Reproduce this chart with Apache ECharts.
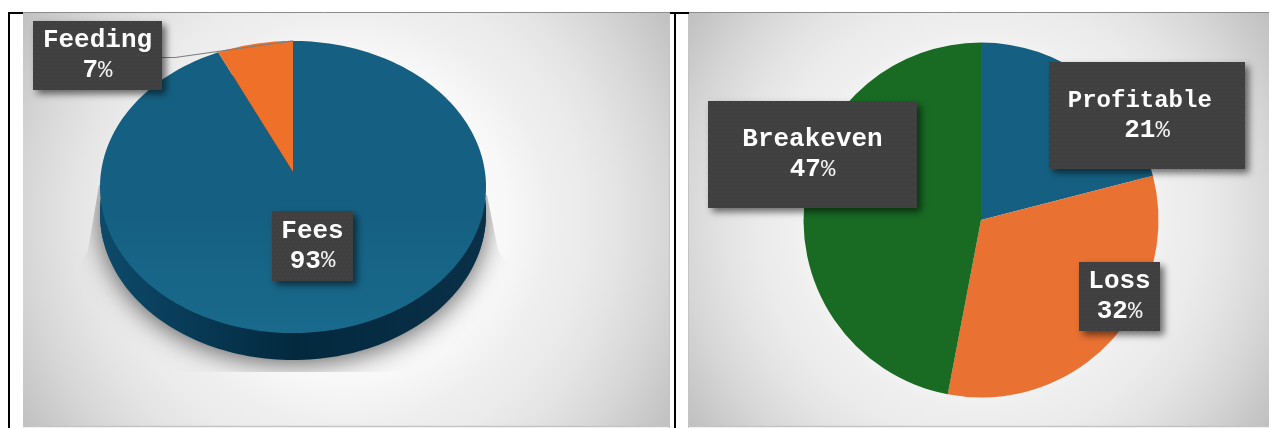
<!DOCTYPE html>
<html>
<head>
<meta charset="utf-8">
<style>html,body{margin:0;padding:0;background:#fff}#chart{width:1269px;height:428px}</style>
<script src="https://cdn.jsdelivr.net/npm/echarts@6/dist/echarts.min.js"></script>
</head>
<body>
<div id="chart"></div>
<script>
// Revenue mix (tilted pie)
const revenueNames = ['Fees', 'Feeding'];
const revenueShares = [93, 7];
const revenueColors = ['#156082', '#EE7029'];

// Outcome mix (flat pie)
const outcomeNames = ['Profitable', 'Loss', 'Breakeven'];
const outcomeShares = [21, 32, 47];
const outcomeColors = ['#156082', '#E97132', '#196B24'];

// Callout boxes, left/top/width/height
const revenueBoxes = [[272, 211, 81, 70], [33, 21, 129, 69]];
const outcomeBoxes = [[1049, 62, 196, 107], [1079, 262, 81, 69], [708, 101, 209, 107]];

// Tilted disc: vanishing-point projection of a unit circle
const disc = { x: 293, y: 172, a: 192, b: 144.5, p: 0.1027, depth: 27 };
function project(frac, r, dy) {
  const t = frac * 2 * Math.PI;
  const u = Math.sin(t) * r, v = Math.cos(t) * r;
  const d = 1 + disc.p * v;
  return [disc.x + disc.a * u / d, disc.y - disc.b * v / d + (dy || 0)];
}
function wedge(from, to) {
  const pts = [project(0, 0)];
  const n = Math.max(4, Math.ceil((to - from) * 240));
  for (let i = 0; i <= n; i++) pts.push(project(from + (to - from) * i / n, 1));
  return pts;
}
function ring(dy) {
  const pts = [];
  for (let i = 0; i < 240; i++) pts.push(project(i / 240, 1, dy));
  return pts;
}

// Dotted dark fill used by every callout
function boxTexture(w, h) {
  const c = document.createElement('canvas');
  c.width = w; c.height = h;
  const g = c.getContext('2d');
  g.fillStyle = '#404040';
  g.fillRect(0, 0, w, h);
  g.fillStyle = '#4a4a4a';
  for (let y = 2, row = 0; y < h; y += 4, row++) {
    for (let x = row % 2 ? 5 : 1; x < w; x += 8) g.fillRect(x, y, 1, 1);
  }
  return c;
}
function calloutRich(size) {
  const face = "'Courier New', 'Liberation Mono', monospace";
  return {
    t: { fontFamily: face, fontWeight: 'bold', fontSize: size, lineHeight: 30, color: '#fff', fill: '#fff', align: 'center' },
    n: { fontFamily: face, fontWeight: 'bold', fontSize: 26, lineHeight: 30, color: '#fff', fill: '#fff', align: 'center' },
    p: { fontFamily: face, fontWeight: 'normal', fontSize: 24, lineHeight: 30, color: '#f2f2f2', fill: '#f2f2f2', align: 'center' }
  };
}
function calloutStyle(box, size) {
  return {
    width: box[2],
    padding: [(box[3] - 60) / 2, 0],
    backgroundColor: { image: boxTexture(box[2], box[3]) },
    shadowColor: 'rgba(0,0,0,0.55)',
    shadowBlur: 7,
    shadowOffsetX: 4,
    shadowOffsetY: 4,
    rich: calloutRich(size)
  };
}

// Panel backdrop: round light spot fading to grey corners
function panel(x, w, reach) {
  const cx = w / 2, cy = 206.5;
  return {
    type: 'rect', x: x, y: 13,
    shape: { x: 0, y: 0, width: w, height: 413 },
    silent: true,
    style: {
      fill: new echarts.graphic.RadialGradient(cx, cy, reach, [
        { offset: 0, color: '#ffffff' },
        { offset: 0.42, color: '#f8f8f8' },
        { offset: 0.53, color: '#efefef' },
        { offset: 0.62, color: '#ebebeb' },
        { offset: 0.71, color: '#e4e4e4' },
        { offset: 0.83, color: '#d7d7d7' },
        { offset: 1, color: '#c0c0c0' }
      ], true)
    }
  };
}
function line(x1, y1, x2, y2, color, width) {
  return { type: 'line', shape: { x1, y1, x2, y2 }, style: { stroke: color, lineWidth: width }, silent: true };
}

const total = revenueShares.reduce((a, b) => a + b, 0);

const option = {
  animation: false,
  backgroundColor: '#fff',
  graphic: { elements: [
    panel(23, 646, 385),
    panel(689, 580, 355),
    line(8, 12.5, 1269, 12.5, '#8c8c8c', 1),
    line(23, 426.5, 669, 426.5, '#c4c4c4', 1.5),
    line(689, 426.5, 1269, 426.5, '#c4c4c4', 1.5),
    line(669.5, 13, 669.5, 428, '#c4c4c4', 1),
    line(688.5, 13, 688.5, 428, '#c4c4c4', 1),
    line(9, 12, 9, 428, '#000', 2),
    line(8, 13, 23, 13, '#000', 2),
    line(675, 12, 675, 428, '#000', 2),
    line(670, 13, 689, 13, '#000', 2)
  ] },
  series: [
    {
      // soft cast shadow and the dark rim of the tilted disc
      type: 'custom',
      coordinateSystem: 'none',
      z: 2,
      silent: true,
      data: [[1]],
      renderItem: function () {
        return {
          type: 'group',
          children: [
            {
              type: 'polygon',
              shape: { points: ring(disc.depth - 1) },
              style: { fill: '#0a3048', shadowBlur: 26, shadowOffsetY: 5, shadowColor: 'rgba(0,0,0,0.6)' },
              clipPath: {
                type: 'polygon',
                shape: { points: [[99, 185], [88, 250], [60, 300], [60, 372], [530, 372], [530, 300], [498, 250], [487, 195]] }
              }
            },
            {
              type: 'polygon',
              shape: { points: ring(disc.depth) },
              style: {
                fill: new echarts.graphic.LinearGradient(100, 0, 486, 0, [
                  { offset: 0, color: '#0d4a6a' },
                  { offset: 0.5, color: '#03293f' },
                  { offset: 1, color: '#0a3048' }
                ], true)
              }
            }
          ]
        };
      }
    },
    {
      // top face, one wedge per share; the large wedge brightens toward the viewer
      type: 'custom',
      coordinateSystem: 'none',
      z: 3,
      silent: true,
      data: revenueShares.map((v, i) => ({ name: revenueNames[i], value: [v] })),
      renderItem: function (params, api) {
        const i = params.dataIndex;
        const before = revenueShares.slice(0, i).reduce((a, b) => a + b, 0);
        const fill = i === 0
          ? new echarts.graphic.LinearGradient(0, 41, 0, 333, [
              { offset: 0, color: revenueColors[i] },
              { offset: 0.6, color: revenueColors[i] },
              { offset: 1, color: '#196A8C' }
            ], true)
          : revenueColors[i];
        return {
          type: 'polygon',
          shape: { points: wedge(before / total, (before + api.value(0)) / total) },
          style: { fill: fill }
        };
      }
    },
    {
      // leader line and callouts of the tilted disc
      type: 'custom',
      coordinateSystem: 'none',
      z: 5,
      silent: true,
      data: revenueShares.map((v, i) => ({ name: revenueNames[i], value: [v] })),
      renderItem: function (params, api) {
        const i = params.dataIndex;
        const box = revenueBoxes[i];
        const children = [];
        if (revenueNames[i] === 'Feeding') {
          children.push({
            type: 'polyline',
            shape: { points: [[box[0] + box[2], box[1] + 36.5], [175, 57.5], project(1, 1)] },
            style: { stroke: '#7f7f7f', lineWidth: 1.2, fill: 'none' }
          });
        }
        children.push({
          type: 'text',
          x: box[0] + box[2] / 2,
          y: box[1] + box[3] / 2,
          style: Object.assign(calloutStyle(box, 26), {
            text: '{t|' + revenueNames[i] + '}\n{n|' + api.value(0) + '}{p|%}',
            align: 'center',
            verticalAlign: 'middle'
          })
        });
        return { type: 'group', children: children };
      }
    },
    {
      type: 'pie',
      center: [981, 220],
      radius: [0, 177.5],
      startAngle: 90,
      clockwise: true,
      silent: true,
      z: 4,
      labelLine: { show: false },
      data: outcomeShares.map((v, i) => {
        const isLong = outcomeNames[i] === 'Profitable';
        return {
          name: outcomeNames[i],
          value: v,
          itemStyle: { color: outcomeColors[i] },
          label: Object.assign({
            show: true,
            position: 'inside',
            formatter: '{t|' + outcomeNames[i] + (isLong ? '\u00a0' : '') + '}\n{n|' + v + '}{p|%}'
          }, calloutStyle(outcomeBoxes[i], isLong ? 24 : 26))
        };
      }),
      labelLayout: function (params) {
        const b = outcomeBoxes[params.dataIndex];
        return { x: b[0] + b[2] / 2, y: b[1] + b[3] / 2, align: 'center', verticalAlign: 'middle' };
      }
    }
  ]
};

const chart = echarts.init(document.getElementById('chart'), null, { renderer: 'canvas' });
chart.setOption(option);
</script>
</body>
</html>
